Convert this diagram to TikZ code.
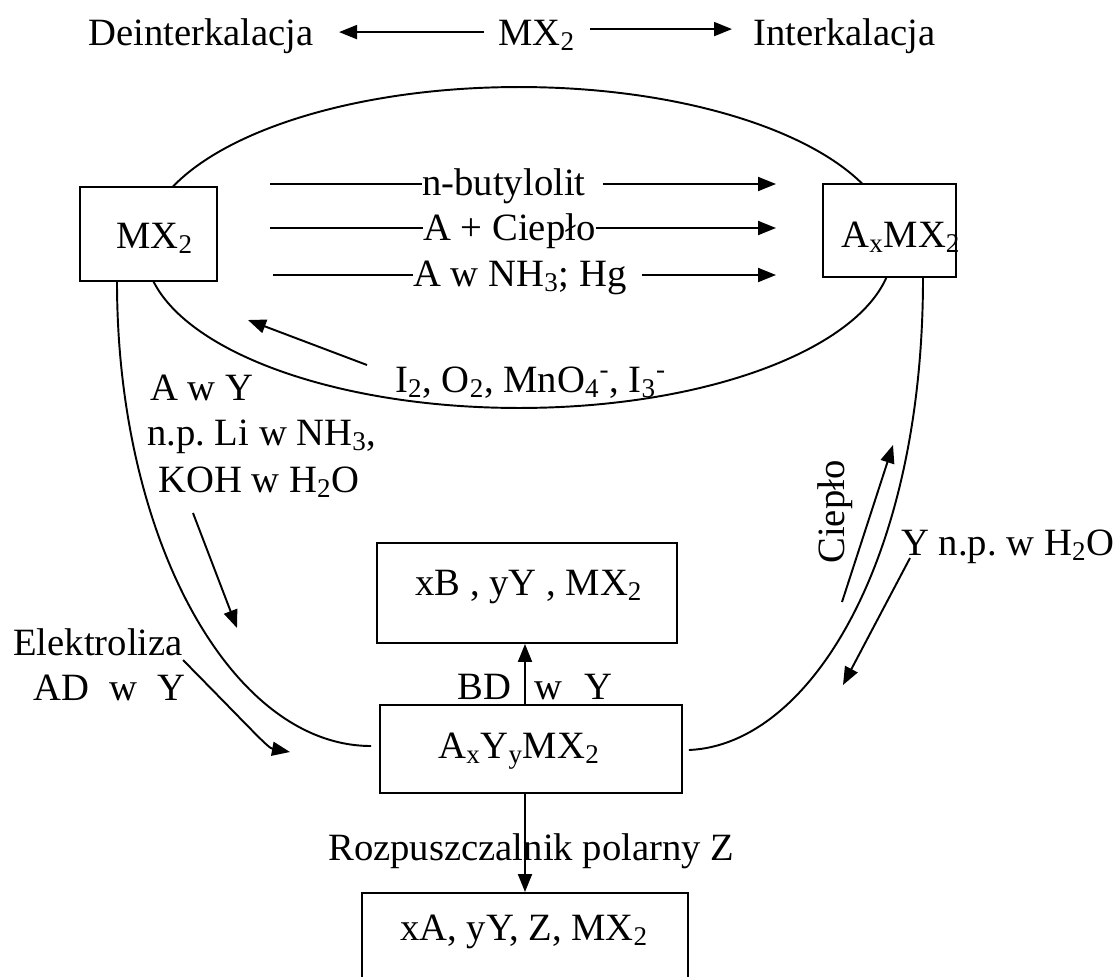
\documentclass[tikz,border=0pt]{standalone}
\usepackage{fontspec}
\setmainfont{Liberation Serif}
\usetikzlibrary{arrows.meta,calc}
\frenchspacing
\begin{document}
\begin{tikzpicture}[x=0.02cm,y=-0.02cm,
  every node/.style={font=\fontsize{22}{26}\selectfont\frenchspacing, inner sep=0pt},
  txt/.style={anchor=base west},
  boxnode/.style={draw, fill=white, line width=1.1pt},
  ln/.style={line width=1.1pt},
  arr/.style={line width=1.1pt, -{Triangle[length=0.36cm,width=0.28cm]}},
]
\useasboundingbox (0,0) rectangle (1116,977);
\clip (0,0) rectangle (1116,977);

% top row
\node[txt] (deint) at (88,45) {Deinterkalacja};
\node[txt] (mxt) at (498,45) {MX\textsubscript{2}};
\node[txt] (inter) at (753,45) {Interkalacja};
\draw[arr] ($(mxt.west)+(-14,-3)$) -- ($(deint.east |- mxt.west)+(25,-3)$);
\draw[arr] ($(mxt.east)+(15,-6)$) -- ($(inter.west |- mxt.east)+(-21,-6)$);

% ellipse
\draw[ln] (519,247.5) ellipse [x radius=7.48cm, y radius=3.21cm];

% boxes
\node[boxnode, minimum width=2.74cm, minimum height=1.88cm] (mxb) at (148.5,234) {};
\node[boxnode, minimum width=2.66cm, minimum height=1.86cm] (axb) at (889.5,230.5) {};
\node[boxnode, minimum width=6.0cm, minimum height=2.0cm] (xbb) at (527,593) {};
\node[boxnode, minimum width=6.04cm, minimum height=1.76cm] (axyb) at (531,749) {};
\node[boxnode, minimum width=6.52cm, minimum height=2.4cm, anchor=north] (botb) at (525,892) {};

% big side curves
\draw[ln] ($(mxb.south)+(-31.5,0)$) .. controls (117,538) and (231,746) .. ($(axyb.west)+(-8,-3)$);
\draw[ln] ($(axb.south)+(33.5,0)$) .. controls (923,560) and (810,745) .. ($(axyb.east)+(6,1)$);

% box texts
\node[txt] (mxtx) at (116,248) {MX\textsubscript{2}};
\node[txt] (axtx) at (841,247) {A\textsubscript{x}MX\textsubscript{2}};
\node[txt] (xbtx) at (415,595) {xB , yY , MX\textsubscript{2}};
\node[txt] (axytx) at (438,758) {A\textsubscript{x}Y\textsubscript{y}MX\textsubscript{2}};
\node[txt] (bottx) at (400,940) {xA, yY, Z, MX\textsubscript{2}};

% horizontal reactions
\coordinate (h1s) at (270,184); \coordinate (h1e) at (776,184);
\coordinate (h2s) at (270,228); \coordinate (h2e) at (776,228);
\coordinate (h3s) at (273,275); \coordinate (h3e) at (776,275);
\node[txt] (l1) at (422,195) {n-butylolit};
\node[txt] (l2) at (423,240) {A + Ciepło};
\node[txt] (l3) at (413,286) {A w NH\textsubscript{3}; Hg};
\draw[ln] (h1s) -- (h1s -| l1.west);
\draw[arr] ($(h1s -| l1.east)+(17,0)$) -- (h1e);
\draw[ln] (h2s) -- (h2s -| l2.west);
\draw[arr] (h2s -| l2.east) -- (h2e);
\draw[ln] (h3s) -- (h3s -| l3.west);
\draw[arr] ($(h3s -| l3.east)+(15,0)$) -- (h3e);

% oxidation
\node[txt] (ox) at (395,392) {I\textsubscript{2}, O\textsubscript{2}, MnO\textsubscript{4}\textsuperscript{-}, I\textsubscript{3}\textsuperscript{-}};
\coordinate (o1) at (367,365); \coordinate (o2) at (248,320);
\draw[arr] (o1) -- (o2);

% left labels
\node[txt] (aw) at (150,400) {A w Y};
\node[txt] (npli) at (147,445) {n.p. Li w NH\textsubscript{3},};
\node[txt] (koh) at (158,492) {KOH w H\textsubscript{2}O};
\coordinate (a1) at (193,513); \coordinate (a2) at (237,628);
\draw[arr] (a1) -- (a2);
\node[txt] (elek) at (13,655) {Elektroliza};
\node[txt] (ad) at (33,700) {AD\hspace{0.4cm}w\hspace{0.4cm}Y};
\coordinate (e1) at (183,660); \coordinate (e2) at (290,752);
\draw[arr] (e1) .. controls (255,733) and (268,748) .. (e2);

% right labels
\node[rotate=90] (cp) at (835,512) {Ciepło};
\node[txt] (ynp) at (901,555) {Y n.p. w H\textsubscript{2}O};
\coordinate (c1) at (842,602); \coordinate (c2) at (893,445);
\draw[arr] (c1) -- (c2);
\coordinate (y1) at (910,558); \coordinate (y2) at (843,685);
\draw[arr] (y1) -- (y2);

% vertical arrows
\coordinate (vx) at (525,0);
\node[txt] (bd) at (457,699) {BD\hspace{0.46cm}w\hspace{0.46cm}Y};
\draw[arr] (vx |- axyb.north) -- (vx |- xbb.south);
\node[txt] (roz) at (328,860) {Rozpuszczalnik polarny Z};
\draw[arr] (vx |- axyb.south) -- (vx |- botb.north);
\end{tikzpicture}
\end{document}
